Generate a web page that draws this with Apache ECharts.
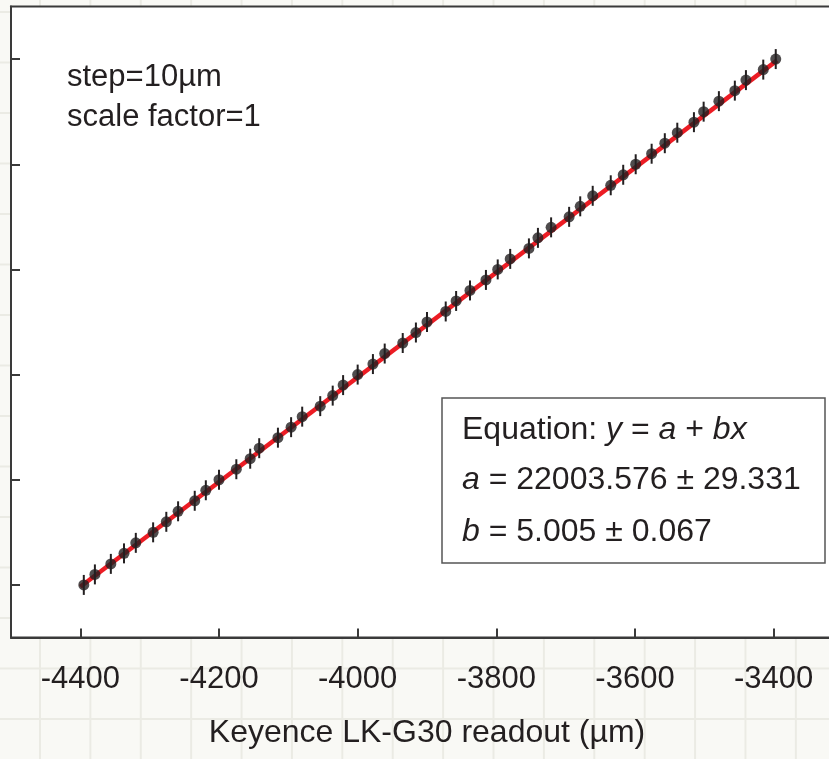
<!DOCTYPE html>
<html>
<head>
<meta charset="utf-8">
<script src="https://cdn.jsdelivr.net/npm/echarts@6/dist/echarts.min.js"></script>
<style>
  html, body { margin: 0; padding: 0; background: #f9f9f5; }
  #c {
    width: 829px; height: 759px;
    background-color: #f9f9f5;
    background-image:
      linear-gradient(to right, #ebebe4 1.5px, transparent 1.5px),
      linear-gradient(to bottom, #ebebe4 1.5px, transparent 1.5px);
    background-size: 50.4px 50.5px;
    background-position: 39px 11px;
  }
</style>
</head>
<body>
<div id="c"></div>
<script>
// Keyence readout (µm) for each point
const readoutX = [-4395, -4379, -4356, -4337, -4320, -4295, -4276, -4259, -4235, -4219,
  -4200, -4175, -4155, -4142, -4115, -4096, -4080, -4054, -4036, -4021,
  -4000, -3978, -3961, -3935, -3916, -3900, -3873, -3858, -3838, -3815,
  -3798, -3780, -3753, -3740, -3721, -3695, -3679, -3661, -3635, -3617,
  -3599, -3576, -3557, -3539, -3515, -3501, -3479, -3456, -3440, -3415, -3397];
// measured values
const measuredY = [0, 100, 200, 300, 400, 500, 600, 700, 800, 900,
  1000, 1100, 1200, 1300, 1400, 1500, 1600, 1700, 1800, 1900,
  2000, 2100, 2200, 2300, 2400, 2500, 2600, 2700, 2800, 2900,
  3000, 3100, 3200, 3300, 3400, 3500, 3600, 3700, 3800, 3900,
  4000, 4100, 4200, 4300, 4400, 4500, 4600, 4700, 4800, 4900, 5000];
// error bar half-lengths
const errorY = [95, 95, 95, 95, 95, 95, 95, 95, 95, 95,
  95, 95, 95, 95, 95, 95, 95, 95, 95, 95,
  95, 95, 95, 95, 95, 95, 95, 95, 95, 95,
  95, 95, 95, 95, 95, 95, 95, 95, 95, 95,
  95, 95, 95, 95, 95, 95, 95, 95, 95, 95, 95];
// linear fit end points
const fitX = [-4400, -3395];
const fitY = [-18, 4988];
// ticks
const xTickValues = [-4400, -4200, -4000, -3800, -3600, -3400];
const yTickValues = [0, 1000, 2000, 3000, 4000, 5000];

const FONT = '"Liberation Sans", Arial, Helvetica, sans-serif';
const INK = '#231f20';

const points = readoutX.map((x, i) => [x, measuredY[i], errorY[i]]);
const fitData = fitX.map((x, i) => [x, fitY[i]]);

const chart = echarts.init(document.getElementById('c'), null, { renderer: 'canvas' });
chart.setOption({
  backgroundColor: 'transparent',
  animation: false,
  grid: {
    left: 11, right: -14, top: 6.5, bottom: 121.5,
    show: true, backgroundColor: '#ffffff',
    borderColor: '#3a3a3a', borderWidth: 2,
    containLabel: false, outerBoundsMode: 'none'
  },
  xAxis: {
    type: 'value', min: -4500, max: -3300,
    name: 'Keyence LK-G30 readout (\u00b5m)',
    nameLocation: 'middle', nameGap: 80,
    nameTextStyle: { fontFamily: FONT, fontSize: 32, color: INK },
    axisLine: { show: true, onZero: false, lineStyle: { color: '#3a3a3a', width: 2 } },
    axisTick: { show: true, inside: true, length: 9, customValues: xTickValues,
      lineStyle: { color: '#3a3a3a', width: 2 } },
    axisLabel: { show: true, customValues: xTickValues, margin: 26,
      formatter: function (v) { return String(v); },
      fontFamily: FONT, fontSize: 31, color: INK },
    splitLine: { show: false }
  },
  yAxis: {
    type: 'value', min: -500, max: 5500,
    axisLine: { show: true, onZero: false, lineStyle: { color: '#3a3a3a', width: 2 } },
    axisTick: { show: true, inside: true, length: 9, customValues: yTickValues,
      lineStyle: { color: '#3a3a3a', width: 2 } },
    axisLabel: { show: false, customValues: yTickValues },
    splitLine: { show: false }
  },
  series: [
    {
      type: 'line', data: fitData, symbol: 'none', z: 1,
      lineStyle: { color: '#ec1c24', width: 4.5 }
    },
    {
      type: 'custom', data: points, z: 2,
      renderItem: function (params, api) {
        const x = api.value(0), y = api.value(1), e = api.value(2);
        const p1 = api.coord([x, y - e]);
        const p2 = api.coord([x, y + e]);
        return { type: 'line',
          shape: { x1: p1[0], y1: p1[1], x2: p2[0], y2: p2[1] },
          style: { stroke: INK, lineWidth: 2 } };
      }
    },
    {
      type: 'scatter', data: points, z: 3,
      symbol: 'circle', symbolSize: 11,
      itemStyle: { color: INK }
    }
  ],
  graphic: [
    { type: 'text', x: 67, y: 77, style: { text: 'step=10\u00b5m', font: '31px ' + FONT,
      fill: INK, verticalAlign: 'middle' } },
    { type: 'text', x: 67, y: 117, style: { text: 'scale factor=1', font: '31px ' + FONT,
      fill: INK, verticalAlign: 'middle' } },
    { type: 'rect', shape: { x: 442, y: 398, width: 383, height: 165 },
      style: { fill: '#ffffff', stroke: '#555555', lineWidth: 1.5 }, z: 10 },
    { type: 'text', x: 462, y: 430, z: 11, style: {
      text: '{n|Equation: }{i|y}{n| = }{i|a}{n| + }{i|bx}', verticalAlign: 'middle',
      rich: { n: { fontFamily: FONT, fontSize: 32, fill: INK },
              i: { fontFamily: FONT, fontSize: 32, fontStyle: 'italic', fill: INK } } } },
    { type: 'text', x: 462, y: 480, z: 11, style: {
      text: '{i|a}{n| = 22003.576 \u00b1 29.331}', verticalAlign: 'middle',
      rich: { n: { fontFamily: FONT, fontSize: 32, fill: INK },
              i: { fontFamily: FONT, fontSize: 32, fontStyle: 'italic', fill: INK } } } },
    { type: 'text', x: 462, y: 532, z: 11, style: {
      text: '{i|b}{n| = 5.005 \u00b1 0.067}', verticalAlign: 'middle',
      rich: { n: { fontFamily: FONT, fontSize: 32, fill: INK },
              i: { fontFamily: FONT, fontSize: 32, fontStyle: 'italic', fill: INK } } } }
  ]
});
</script>
</body>
</html>
